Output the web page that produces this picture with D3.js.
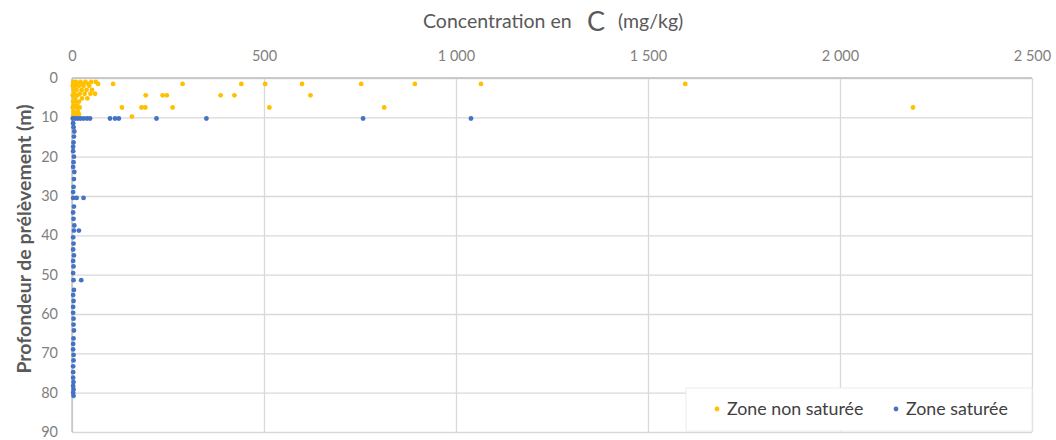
<!DOCTYPE html>
<html>
<head>
<meta charset="utf-8">
<script src="https://cdn.jsdelivr.net/npm/d3@7"></script>
<style>
  html, body { margin: 0; padding: 0; background: #fff; }
  svg { display: block; font-family: Lato, "Open Sans", sans-serif; }
</style>
</head>
<body>
<svg id="chart" width="1056" height="440"></svg>
<script>
// Concentration ticks (top axis) and depth ticks (left axis)
const xTicks = [0, 500, 1000, 1500, 2000, 2500];
const yTicks = [0, 10, 20, 30, 40, 50, 60, 70, 80, 90];

// Zone non saturée : depth (m) and concentration (mg/kg)
const nonSatDepth = [
  1.0, 1.0, 1.0, 1.0, 1.0, 1.0,
  1.5, 1.5, 1.5, 1.5, 1.5, 1.5, 1.5, 1.5, 1.5, 1.5, 1.5, 1.5, 1.5, 1.5,
  2.0, 2.0, 2.0, 2.0, 2.0,
  3.0, 3.0, 3.0, 3.0, 3.0,
  4.0, 4.0, 4.0, 4.0, 4.0,
  4.4, 4.4, 4.4, 4.4, 4.4, 4.4, 4.4, 4.4,
  5.2, 5.2, 5.2,
  6.0, 6.0, 6.0,
  7.0, 7.0,
  7.5, 7.5, 7.5, 7.5, 7.5, 7.5, 7.5, 7.5, 7.5, 7.5,
  8.5, 8.5,
  9.2, 9.2,
  9.6, 9.6, 9.8
];
const nonSatConc = [
  3, 10, 22, 35, 50, 62,
  5, 15, 28, 42, 68, 107, 288, 441, 503, 599, 753, 893, 1065, 1597,
  2, 8, 18, 30, 45,
  4, 12, 25, 38, 52,
  6, 20, 33, 48, 60,
  2, 14, 192, 236, 247, 387, 423, 621,
  8, 26, 40,
  3, 10, 18,
  5, 14,
  2, 12, 20, 130, 181, 191, 262, 514, 813, 2190,
  4, 15,
  6, 18,
  3, 10, 156
];

// Zone saturée : depth (m) and concentration (mg/kg)
const satDepth = [
  10.3, 10.3, 10.3, 10.3, 10.3, 10.3, 10.3, 10.3, 10.3, 10.3, 10.3, 10.3, 10.3, 10.3,
  11.5, 12.5, 13.6, 14.9, 16.4, 17.5, 18.6, 20.0, 21.4, 22.6, 23.9, 25.7, 27.7, 29.0,
  30.5, 30.5, 30.5, 32.7, 34.2, 35.8, 37.5, 38.8, 38.8, 40.5, 42.1, 43.6, 45.1, 46.5, 47.9, 49.6,
  51.4, 51.4, 53.9, 55.2, 56.7, 58.2, 59.7, 61.2, 62.7, 64.2, 66.2, 67.6, 69.0, 70.4, 71.8, 73.3, 74.8,
  76.2, 77.3, 78.3, 79.2, 80.0, 80.8
];
const satConc = [
  2, 8, 15, 22, 30, 39, 47, 99, 112, 122, 220, 350, 758, 1039,
  3, 4, 6, 5, 4, 3, 3, 5, 4, 3, 6, 5, 4, 3,
  3, 12, 30, 5, 3, 4, 6, 5, 18, 3, 4, 3, 5, 3, 4, 3,
  4, 24, 5, 3, 4, 3, 3, 4, 4, 5, 4, 3, 3, 4, 4, 3, 3,
  3, 4, 3, 4, 3, 4
];

const legendItems = [
  { label: "Zone non saturée", color: "#FFC000" },
  { label: "Zone saturée", color: "#4472C4" }
];

const svg = d3.select("#chart");
const plotLeft = 72, plotRight = 1032, plotTop = 78, plotBottom = 432;

const x = d3.scaleLinear().domain([0, 2500]).range([plotLeft, plotRight]);
const y = d3.scaleLinear().domain([0, 90]).range([plotTop, plotBottom]);

// French thousands separator
const fmt = v => d3.format(",")(v).replace(/,/g, "\u00a0");
const gridColor = "#d9d9d9";

// Vertical gridlines + top tick labels
const xAxis = d3.axisTop(x).tickValues(xTicks).tickSize(-(plotBottom - plotTop)).tickFormat(fmt).tickPadding(17);
const gx = svg.append("g").attr("transform", `translate(0,${plotTop})`).call(xAxis);
gx.select(".domain").remove();
gx.selectAll(".tick line").attr("stroke", gridColor).attr("stroke-width", 1.3);
gx.selectAll(".tick text").attr("fill", "#7f7f7f").attr("font-size", 14.5).attr("font-family", "Lato, sans-serif");

// Horizontal gridlines + left tick labels
const yAxis = d3.axisLeft(y).tickValues(yTicks).tickSize(-(plotRight - plotLeft)).tickPadding(14);
const gy = svg.append("g").attr("transform", `translate(${plotLeft},0)`).call(yAxis);
gy.select(".domain").remove();
gy.selectAll(".tick line").attr("stroke", gridColor).attr("stroke-width", 1.3);
gy.selectAll(".tick text").attr("fill", "#7f7f7f").attr("font-size", 14.5).attr("font-family", "Lato, sans-serif");

// Axis lines
svg.append("line").attr("x1", plotLeft).attr("x2", plotRight).attr("y1", plotTop).attr("y2", plotTop)
  .attr("stroke", "#bfbfbf").attr("stroke-width", 1.3);
svg.append("line").attr("x1", plotLeft).attr("x2", plotLeft).attr("y1", plotTop).attr("y2", plotBottom)
  .attr("stroke", "#bfbfbf").attr("stroke-width", 1.3);

// Data points
const nonSat = nonSatDepth.map((d, i) => ({ depth: d, conc: nonSatConc[i] }));
const sat = satDepth.map((d, i) => ({ depth: d, conc: satConc[i] }));

svg.append("g").selectAll("circle").data(nonSat).join("circle")
  .attr("cx", d => x(d.conc)).attr("cy", d => y(d.depth)).attr("r", 2.4)
  .attr("fill", legendItems[0].color);

svg.append("g").selectAll("circle").data(sat).join("circle")
  .attr("cx", d => x(d.conc)).attr("cy", d => y(d.depth)).attr("r", 2.4)
  .attr("fill", legendItems[1].color);

// Title, with the element symbol set larger
const title = svg.append("text").attr("y", 28).attr("fill", "#595959").attr("font-size", 19.5);
title.append("tspan").attr("x", 423).text("Concentration en");
title.append("tspan").attr("x", 587).attr("dy", 3).attr("font-size", 27).text("C");
title.append("tspan").attr("x", 618).attr("dy", -3).text("(mg/kg)");

// Y axis title
svg.append("text")
  .attr("transform", `translate(31,239) rotate(-90)`)
  .attr("text-anchor", "middle")
  .attr("fill", "#595959").attr("font-size", 19.5).attr("font-weight", "bold")
  .text("Profondeur de prélèvement (m)");

// Legend
const lg = svg.append("g");
lg.append("rect").attr("x", 686).attr("y", 388).attr("width", 346).attr("height", 43)
  .attr("fill", "#fff").attr("stroke", "#ececec");
const legendX = [717, 896];
legendItems.forEach((item, i) => {
  lg.append("circle").attr("cx", legendX[i]).attr("cy", 409).attr("r", 2.4).attr("fill", item.color);
  lg.append("text").attr("x", legendX[i] + 10).attr("y", 415)
    .attr("fill", "#404040").attr("font-size", 17.8).text(item.label);
});
</script>
</body>
</html>
